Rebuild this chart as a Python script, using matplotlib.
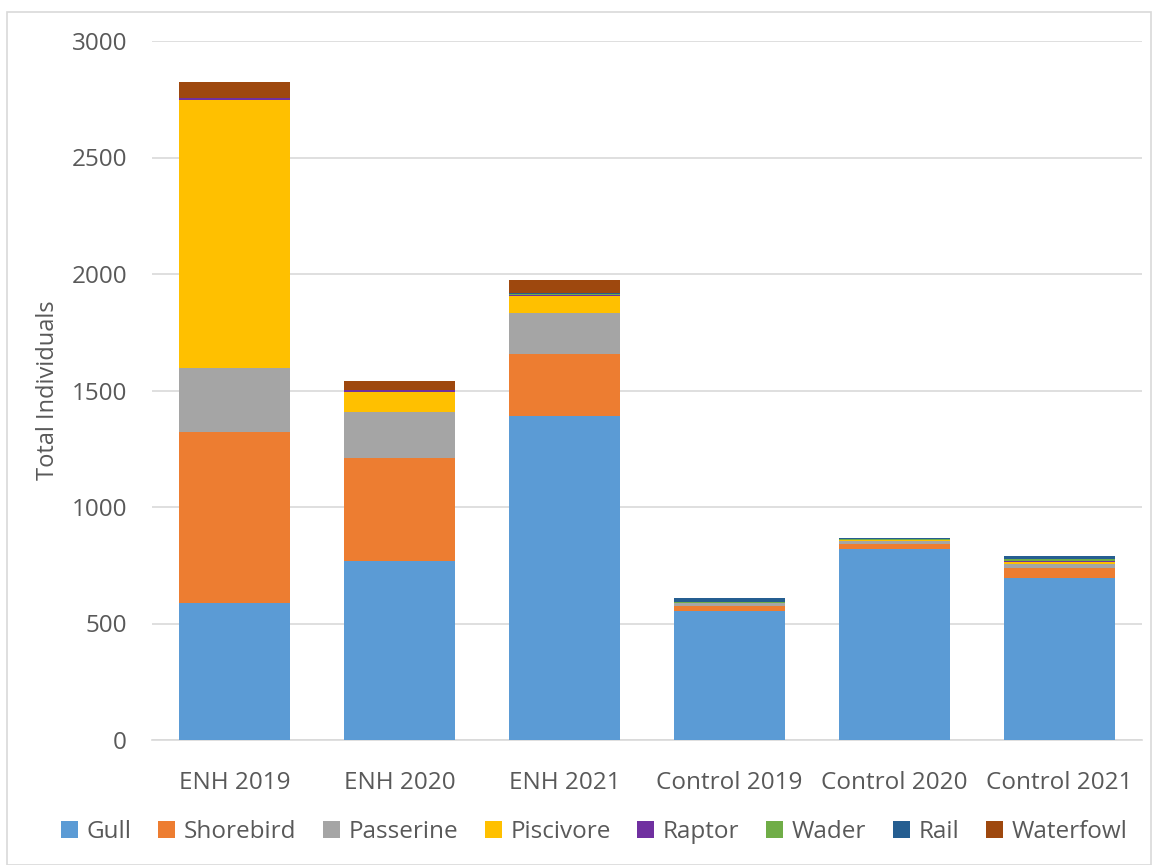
import matplotlib
matplotlib.use("Agg")
import matplotlib.pyplot as plt
from matplotlib.patches import Rectangle
import numpy as np

plt.rcParams['font.family'] = ['Open Sans', 'DejaVu Sans']

categories = ["ENH 2019", "ENH 2020", "ENH 2021", "Control 2019", "Control 2020", "Control 2021"]
series_names = ["Gull", "Shorebird", "Passerine", "Piscivore", "Raptor", "Wader", "Rail", "Waterfowl"]
gull = [588, 768, 1390, 553, 820, 694]
shorebird = [733, 442, 266, 23, 20, 45]
passerine = [275, 197, 176, 13, 12, 16]
piscivore = [1151, 87, 73, 0, 5, 10]
raptor = [8, 10, 4, 0, 0, 2]
wader = [0, 0, 4, 5, 5, 9]
rail = [0, 0, 4, 14, 6, 13]
waterfowl = [67, 36, 57, 0, 0, 0]
colors = ["#5B9BD5", "#ED7D31", "#A5A5A5", "#FFC000", "#7030A0", "#70AD47", "#255E91", "#9E480E"]
yticks = [0, 500, 1000, 1500, 2000, 2500, 3000]

data = [gull, shorebird, passerine, piscivore, raptor, wader, rail, waterfowl]

W, H = 1152, 865
fig = plt.figure(figsize=(W / 100, H / 100), dpi=100)
fig.patches.append(Rectangle((7 / W, 0), (W - 8) / W, (H - 12) / H, transform=fig.transFigure,
                             fill=False, edgecolor="#D9D9D9", linewidth=1.2))

ax = fig.add_axes([152 / W, (H - 740) / H, 990 / W, 699 / H])
x = np.arange(len(categories))
bottom = np.zeros(len(categories))
handles = []
for name, vals, c in zip(series_names, data, colors):
    b = ax.bar(x, vals, width=0.667, bottom=bottom, color=c, label=name, linewidth=0, zorder=3)
    handles.append(b)
    bottom += np.array(vals)

ax.set_xlim(-0.5, 5.5)
ax.set_ylim(0, 3000)
ax.set_yticks(yticks)
ax.set_yticklabels([str(t) for t in yticks])
ax.set_xticks(x)
ax.set_xticklabels(categories)
ax.yaxis.grid(True, color="#D9D9D9", linewidth=1.2, zorder=0)
for s in ["top", "right", "left"]:
    ax.spines[s].set_visible(False)
ax.spines["bottom"].set_color("#D9D9D9")
ax.spines["bottom"].set_linewidth(1.2)
ax.tick_params(axis="both", length=0, labelsize=17.5, colors="#595959")
ax.tick_params(axis="y", pad=18)
ax.tick_params(axis="x", pad=22)
ax.set_ylabel("Total Individuals", fontsize=17, color="#595959")
ax.yaxis.set_label_coords((60 - 152) / 990, 0.5)

fig.legend(handles, series_names, loc="center", bbox_to_anchor=(594 / W, (H - 832) / H),
           ncol=8, frameon=False, fontsize=17.5, labelcolor="#595959",
           handlelength=0.7, handleheight=0.7, handletextpad=0.35, columnspacing=1.1)

fig.savefig("out.png", dpi=100)
